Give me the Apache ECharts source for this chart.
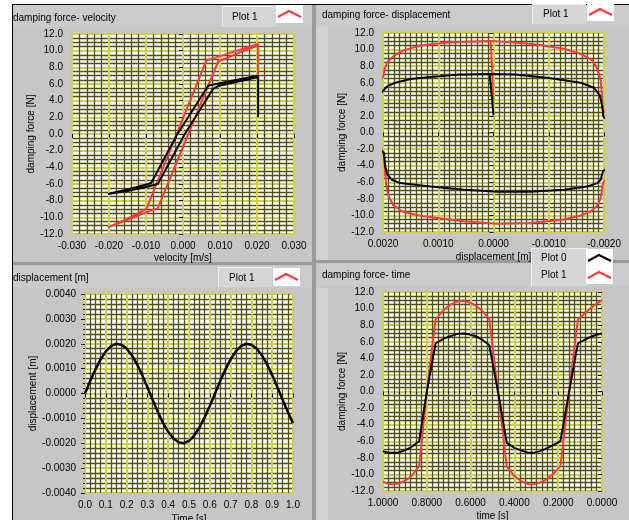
<!DOCTYPE html>
<html><head><meta charset="utf-8">
<script src="https://cdn.jsdelivr.net/npm/echarts@6.0.0/dist/echarts.min.js"></script>
<style>html,body{margin:0;padding:0;background:#ffffff;}#c{width:629px;height:520px;}</style>
</head><body><div id="c"></div>
<script>
// ---------- Panel 1: damping force vs velocity ----------
const vel1Start = 0.0203, vel1End = -0.0165;
const black1Start = 2.0, red1Start = 3.5, black1End = -6.8, red1End = -10.45;
const velDecBlack = [0.0203, 0.015, 0.010, 0.0068, -0.0015, -0.0086, -0.0099, -0.015, -0.0203];
const forceDecBlack = [7.0, 6.55, 6.1, 5.8, 0.0, -5.88, -6.05, -6.65, -7.2];
const velIncBlack = [-0.0203, -0.015, -0.010, -0.0068, 0.0005, 0.0081, 0.0095, 0.015, 0.0203];
const forceIncBlack = [-7.3, -6.85, -6.35, -6.0, 0.0, 5.4, 5.75, 6.3, 6.85];
const velDecRed = [0.0203, 0.015, 0.010, 0.0063, -0.0099, -0.015, -0.0203];
const forceDecRed = [10.8, 10.05, 9.35, 8.8, -9.0, -10.15, -11.2];
const velIncRed = [-0.0203, -0.015, -0.010, -0.0068, 0.0095, 0.015, 0.0203];
const forceIncRed = [-11.1, -10.3, -9.4, -8.9, 8.7, 9.7, 10.6];

// ---------- Panel 2: damping force vs displacement ----------
const disp2End = -0.0012;
const black2Start = 2.1, red2Start = 3.5, black2End = -6.93, red2End = -10.55;
const dispTopBlack = [-0.00199,-0.00196,-0.00192,-0.00182,-0.00158,-0.00097,-0.00037,0.00007,0.00066,0.00114,0.00150,0.00178,0.00192,0.00199];
const forceTopBlack = [1.9,3.5,4.5,5.4,6.0,6.6,7.0,7.05,6.95,6.7,6.45,6.0,5.6,5.1];
const dispBotBlack = [0.00198,0.00196,0.00192,0.00184,0.00169,0.00114,0.00053,-0.00007,-0.00067,-0.00128,-0.0017,-0.00188,-0.00194,-0.00198];
const forceBotBlack = [-2.5,-4.1,-5.1,-5.7,-6.1,-6.5,-6.9,-7.15,-7.15,-6.9,-6.5,-6.1,-5.7,-4.7];
const dispTopRed = [-0.00198,-0.00196,-0.00194,-0.00188,-0.00179,-0.00158,-0.00128,-0.00067,0.00005,0.00084,0.00132,0.00163,0.00181,0.00192,0.00197,0.00199];
const forceTopRed = [2.7,4.7,6.3,7.7,8.7,9.5,10.1,10.7,11.05,10.85,10.5,9.9,9.2,8.5,7.7,6.8];
const dispBotRed = [0.00199,0.00197,0.00194,0.0019,0.00181,0.00163,0.00127,0.00054,-0.00007,-0.00067,-0.00128,-0.00158,-0.00176,-0.00187,-0.00193,-0.00196,-0.00198];
const forceBotRed = [-2.3,-4.1,-6.5,-7.7,-8.8,-9.6,-10.1,-10.7,-11.0,-10.9,-10.5,-10.0,-9.5,-8.9,-8.1,-7.1,-6.1];
// turnaround samples beyond the displacement range (clipped away by the plot)
const turnLeftBlack = [0.0026, 1.0], turnRightBlack = [-0.0026, -1.5];
const turnLeftRed = [0.0026, 2.0], turnRightRed = [-0.0026, -1.5];

// ---------- Panel 3: displacement vs time ----------
const time3 = [0,0.025,0.05,0.075,0.1,0.125,0.15,0.175,0.2,0.225,0.25,0.275,0.3,0.325,0.35,0.375,0.4,0.425,0.45,0.475,0.5,0.525,0.55,0.575,0.6,0.625,0.65,0.675,0.7,0.725,0.75,0.775,0.8,0.825,0.85,0.875,0.9,0.925,0.95,0.975,1.0];
const disp3 = [0.0,0.00050,0.00096,0.00137,0.00169,0.00190,0.00200,0.00196,0.00181,0.00154,0.00118,0.00074,0.00025,-0.00025,-0.00074,-0.00118,-0.00154,-0.00181,-0.00196,-0.00200,-0.00190,-0.00169,-0.00137,-0.00096,-0.00050,0.0,0.00050,0.00096,0.00137,0.00169,0.00190,0.00200,0.00196,0.00181,0.00154,0.00118,0.00074,0.00025,-0.00025,-0.00074,-0.00119];

// ---------- Panel 4: damping force vs time ----------
const time4 = [0,0.025,0.05,0.075,0.11,0.15,0.19,0.225,0.26,0.29,0.315,0.34,0.37,0.40,0.435,0.475,0.515,0.55,0.58,0.61,0.635,0.66,0.69,0.72,0.76,0.80,0.835,0.87,0.90,0.93,0.955,0.98,1.0];
const force4Black = [7.0,6.85,6.6,6.3,5.8,0.0,-6.0,-6.5,-6.95,-7.25,-7.4,-7.35,-7.1,-6.8,-6.2,0.0,5.6,6.3,6.7,6.9,7.0,6.95,6.7,6.4,5.8,0.0,-6.0,-6.7,-7.1,-7.35,-7.4,-7.35,-7.2];
const force4Red = [11.0,10.6,10.1,9.5,8.7,0.0,-9.0,-10.0,-10.7,-11.05,-11.2,-11.15,-10.8,-10.2,-9.0,0.0,8.8,9.8,10.4,10.8,10.95,10.85,10.5,9.9,8.7,0.0,-9.0,-10.2,-10.8,-11.1,-11.2,-11.1,-10.9];

// ---------- build paths ----------
const zip = (a, b) => a.map((v, i) => [v, b[i]]);
const p1Black = [[vel1Start, black1Start]].concat(zip(velDecBlack, forceDecBlack), zip(velIncBlack, forceIncBlack),
  zip(velDecBlack, forceDecBlack).filter(p => p[0] >= vel1End), [[vel1End, black1End]]);
const p1Red = [[vel1Start, red1Start]].concat(zip(velDecRed, forceDecRed), zip(velIncRed, forceIncRed),
  zip(velDecRed, forceDecRed).filter(p => p[0] >= vel1End), [[vel1End, red1End]]);
const tb = zip(dispTopBlack, forceTopBlack), bb = zip(dispBotBlack, forceBotBlack);
const tr = zip(dispTopRed, forceTopRed), br = zip(dispBotRed, forceBotRed);
const p2Black = [[0, black2Start]].concat(tb.filter(p => p[0] >= 0), [turnLeftBlack], bb, [turnRightBlack], tb, [turnLeftBlack],
  bb.filter(p => p[0] >= disp2End), [[disp2End, black2End]]);
const p2Red = [[0, red2Start]].concat(tr.filter(p => p[0] >= 0), [turnLeftRed], br, [turnRightRed], tr, [turnLeftRed],
  br.filter(p => p[0] >= disp2End), [[disp2End, red2End]]);

// ---------- styling helpers ----------
const FONT = 'Liberation Sans';
const MAJOR = '#d0d048', MINOR = '#525210';
function axis(o) {
  return {
    type: 'value', gridIndex: o.grid, min: o.min, max: o.max, interval: o.interval, inverse: !!o.inverse,
    name: o.name, nameLocation: 'middle', nameGap: o.nameGap, nameRotate: o.rot || 0,
    nameTextStyle: {color: '#000', fontFamily: FONT, fontSize: 10},
    axisLine: {show: false},
    axisTick: {show: true, length: 4, lineStyle: {color: '#000', width: 1}},
    minorTick: {show: !!o.minorTicks, splitNumber: o.minor, length: 2, lineStyle: {color: '#000', width: 1}},
    axisLabel: {color: '#000', fontFamily: FONT, fontSize: 10, margin: o.margin,
      formatter: v => (Math.abs(v) < 1e-12 ? 0 : v).toFixed(o.dec)},
    splitLine: {show: true, lineStyle: {color: MAJOR, width: 2}},
    minorSplitLine: {show: true, lineStyle: {color: MINOR, width: 1.3}}
  };
}
const line = (grid, data, color, w) => ({
  type: 'line', xAxisIndex: grid, yAxisIndex: grid, data: data, showSymbol: false, clip: true,
  lineStyle: {color: color, width: w || 2}, itemStyle: {color: color}, animation: false, z: color === '#000' ? 4 : 3
});
const RED = '#ff3a3a', BLK = '#000';

// ---------- frame graphics ----------
const G = [];
const rect = (x, y, w, h, fill, z) => G.push({type: 'rect', shape: {x, y, width: w, height: h}, style: {fill}, z: z || -10, silent: true});
const txt = (x, y, s, z) => G.push({type: 'text', x, y, style: {text: s, fill: '#000', font: '10px ' + FONT, textVerticalAlign: 'middle'}, z: z || 50});
rect(12, 4, 617, 516, '#c6c6c6');
rect(12, 4, 617, 1, '#000');
rect(12, 4, 1, 516, '#000');
// title bars
rect(13, 5, 300, 22, '#cbcbcb'); rect(317, 5, 312, 22, '#cbcbcb');
rect(13, 266, 300, 22, '#cbcbcb'); rect(317, 264, 312, 22, '#cbcbcb');
// separators
rect(312, 5, 4, 515, '#9a9a9a'); rect(316, 27, 12, 233, '#d2d2d2'); rect(316, 288, 12, 232, '#d2d2d2');
rect(13, 262, 299, 3, '#9a9a9a'); rect(316, 260, 313, 3, '#9a9a9a');
// titles
txt(13, 18, 'damping force- velocity'); txt(322, 15, 'damping force- displacement');
txt(13, 278, 'displacement [m]'); txt(322, 275, 'damping force- time');
// legends
function legendBox(x, y, w, h) { rect(x, y, w, h, '#d6d6d6', 40); rect(x, y, w, 1, '#efefef', 41); rect(x, y, 1, h, '#efefef', 41); }
function swatch(x, y, color) {
  rect(x, y, 27, 18, '#ffffff', 42);
  G.push({type: 'polyline', shape: {points: [[x + 2, y + 12], [x + 13, y + 6], [x + 25, y + 12]]}, style: {stroke: color, lineWidth: 2, fill: null}, z: 43, silent: true});
}
legendBox(222, 6, 54, 21); txt(232, 17, 'Plot 1', 44); swatch(276, 5, RED);
legendBox(532, 4, 54, 20); txt(543, 14, 'Plot 1', 44); swatch(587, 3, RED);
legendBox(218, 267, 54, 20); txt(229, 278, 'Plot 1', 44); swatch(273, 268, RED);
legendBox(531, 248, 57, 38); txt(541, 258, 'Plot 0', 44); txt(541, 275, 'Plot 1', 44);
swatch(586, 249, BLK); swatch(586, 266, RED);

const gridBase = {show: true, backgroundColor: '#fff', borderWidth: 0, containLabel: false, outerBoundsMode: 'none'};
const option = {
  animation: false,
  textStyle: {fontFamily: FONT},
  graphic: {elements: G},
  grid: [
    Object.assign({left: 72, top: 34, width: 222, height: 200}, gridBase),
    Object.assign({left: 383, top: 33, width: 221, height: 199}, gridBase),
    Object.assign({left: 85, top: 294, width: 208, height: 199}, gridBase),
    Object.assign({left: 383, top: 292, width: 219, height: 199}, gridBase)
  ],
  xAxis: [
    axis({grid: 0, min: -0.03, max: 0.03, interval: 0.01, dec: 3, minor: 5, minorTicks: true, name: 'velocity [m/s]', nameGap: 19, margin: 7}),
    axis({grid: 1, min: -0.002, max: 0.002, interval: 0.001, dec: 4, minor: 10, minorTicks: true, inverse: true, name: 'displacement [m]', nameGap: 20, margin: 7}),
    axis({grid: 2, min: 0, max: 1, interval: 0.1, dec: 1, minor: 4, minorTicks: true, name: 'Time [s]', nameGap: 21, margin: 7}),
    axis({grid: 3, min: 0, max: 1, interval: 0.2, dec: 4, minor: 8, minorTicks: true, inverse: true, name: 'time [s]', nameGap: 20, margin: 7})
  ],
  yAxis: [
    axis({grid: 0, min: -12, max: 12, interval: 2, dec: 1, minor: 4, name: 'damping force [N]', nameGap: 31, rot: 90, margin: 9}),
    axis({grid: 1, min: -12, max: 12, interval: 2, dec: 1, minor: 4, name: 'damping force [N]', nameGap: 33, rot: 90, margin: 9}),
    axis({grid: 2, min: -0.004, max: 0.004, interval: 0.001, dec: 4, minor: 5, minorTicks: true, name: 'displacement [m]', nameGap: 46, rot: 90, margin: 9}),
    axis({grid: 3, min: -12, max: 12, interval: 2, dec: 1, minor: 4, name: 'damping force [N]', nameGap: 33, rot: 90, margin: 9})
  ],
  series: [
    line(0, p1Red, RED), line(0, p1Black, BLK),
    line(1, p2Red, RED), line(1, p2Black, BLK),
    line(2, zip(time3, disp3), BLK, 2.5),
    line(3, zip(time4, force4Red), RED), line(3, zip(time4, force4Black), BLK)
  ]
};
const chart = echarts.init(document.getElementById('c'), null, {renderer: 'canvas'});
chart.setOption(option);
</script></body></html>
